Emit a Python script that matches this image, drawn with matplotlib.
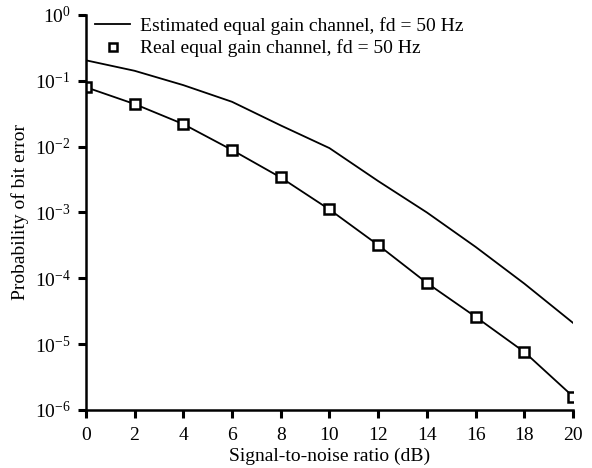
import matplotlib
matplotlib.use("Agg")
import matplotlib.pyplot as plt
import numpy as np

plt.rcParams["font.family"] = ["Liberation Serif", "DejaVu Serif"]
plt.rcParams["mathtext.fontset"] = "custom"
plt.rcParams["mathtext.rm"] = "Liberation Serif"
plt.rcParams["mathtext.it"] = "Liberation Serif:italic"

# SNR points (dB)
snr = [0, 2, 4, 6, 8, 10, 12, 14, 16, 18, 20]

# Bit error probability
ber_estimated = [0.205, 0.142, 0.086, 0.048, 0.021, 0.0095, 0.0030,
                 0.0010, 3.0e-4, 8.3e-5, 2.1e-5]
ber_real = [0.080, 0.0444, 0.022, 0.0089, 0.0034, 0.00111, 3.2e-4,
            8.5e-5, 2.6e-5, 7.6e-6, 1.6e-6]

xticks = [0, 2, 4, 6, 8, 10, 12, 14, 16, 18, 20]

fig = plt.figure(figsize=(5.92, 4.68), dpi=100)
ax = fig.add_axes([0.145, 0.124, 0.823, 0.844])

ax.plot(snr, ber_estimated, color="black", lw=1.3,
        label="Estimated equal gain channel, fd = 50 Hz")
ax.plot(snr, ber_real, color="black", lw=1.3, marker="s", ms=7,
        mfc="white", mec="black", mew=1.8)
# legend entry for the real channel shows only the marker
ax.plot([], [], ls="none", marker="s", ms=6, mfc="white", mec="black",
        mew=1.8, label="Real equal gain channel, fd = 50 Hz")

ax.set_yscale("log")
ax.set_xlim(0, 20)
ax.set_ylim(1e-6, 1)
ax.set_xticks(xticks)
ax.set_yticks([1e0, 1e-1, 1e-2, 1e-3, 1e-4, 1e-5, 1e-6])
ax.minorticks_off()

for side in ["top", "right"]:
    ax.spines[side].set_visible(False)
for side in ["left", "bottom"]:
    ax.spines[side].set_linewidth(1.8)
ax.tick_params(axis="both", direction="out", length=6, width=2.2,
               labelsize=14)
ax.tick_params(axis="x", pad=6)
ax.tick_params(axis="y", pad=5)

ax.set_xlabel("Signal-to-noise ratio (dB)", fontsize=14, labelpad=3)
ax.set_ylabel("Probability of bit error", fontsize=14, labelpad=4)

ax.legend(loc="upper left", frameon=False, fontsize=14,
          bbox_to_anchor=(-0.005, 1.025), handlelength=1.8,
          handletextpad=0.5, labelspacing=0.25, borderaxespad=0.2)

fig.savefig("out.png", dpi=100)
